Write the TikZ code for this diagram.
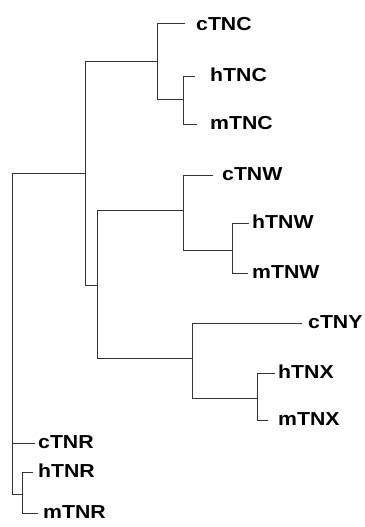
\documentclass[tikz,border=0pt]{standalone}
\usepackage{fontspec}
\setmainfont{Liberation Sans}[FakeStretch=1.13]
\begin{document}
\begin{tikzpicture}[x=1pt,y=-1pt,
  branch/.style={draw=black!80, line width=1pt},
  leaf/.style={anchor=west, inner sep=0pt, font=\bfseries\fontsize{18.8}{20}\selectfont}]
\useasboundingbox (0,0) rectangle (364,527);
% internal nodes
\coordinate (root) at (12,300);
\coordinate (C) at (85,173);
\coordinate (B) at (157,62);
\coordinate (A) at (183,99);
\coordinate (F) at (97,285);
\coordinate (E) at (183,210);
\coordinate (D) at (232,250);
\coordinate (H) at (192,358);
\coordinate (G) at (257,398);
\coordinate (I) at (22,494);
% leaf stub ends
\coordinate (sCTNC) at (185,24);
\coordinate (sHTNC) at (195,76);
\coordinate (sMTNC) at (197,124);
\coordinate (sCTNW) at (213,175);
\coordinate (sHTNW) at (249,223);
\coordinate (sMTNW) at (248,273);
\coordinate (sCTNY) at (302,323);
\coordinate (sHTNX) at (275,373);
\coordinate (sMTNX) at (268,420);
\coordinate (sCTNR) at (35,443);
\coordinate (sHTNR) at (33,472);
\coordinate (sMTNR) at (38,513);
% labels
\node[leaf] (cTNC) at (196,24) {cTNC};
\node[leaf] (hTNC) at (210,75) {hTNC};
\node[leaf] (mTNC) at (210,123) {mTNC};
\node[leaf] (cTNW) at (222,174) {cTNW};
\node[leaf] (hTNW) at (252,222) {hTNW};
\node[leaf] (mTNW) at (252,272) {mTNW};
\node[leaf] (cTNY) at (308,322) {cTNY};
\node[leaf] (hTNX) at (278,372) {hTNX};
\node[leaf] (mTNX) at (278,419) {mTNX};
\node[leaf] (cTNR) at (38,442) {cTNR};
\node[leaf] (hTNR) at (38,471) {hTNR};
\node[leaf] (mTNR) at (43,512) {mTNR};
% branches
\draw[branch] (root) |- (C);
\draw[branch] (root) |- (sCTNR);
\draw[branch] (root) |- (I);
\draw[branch] (I) |- (sHTNR);
\draw[branch] (I) |- (sMTNR);
\draw[branch] (C) |- (B);
\draw[branch] (C) |- (F);
\draw[branch] (B) |- (sCTNC);
\draw[branch] (B) |- (A);
\draw[branch] (A) |- (sHTNC);
\draw[branch] (A) |- (sMTNC);
\draw[branch] (F) |- (E);
\draw[branch] (F) |- (H);
\draw[branch] (E) |- (sCTNW);
\draw[branch] (E) |- (D);
\draw[branch] (D) |- (sHTNW);
\draw[branch] (D) |- (sMTNW);
\draw[branch] (H) |- (sCTNY);
\draw[branch] (H) |- (G);
\draw[branch] (G) |- (sHTNX);
\draw[branch] (G) |- (sMTNX);
\end{tikzpicture}
\end{document}
